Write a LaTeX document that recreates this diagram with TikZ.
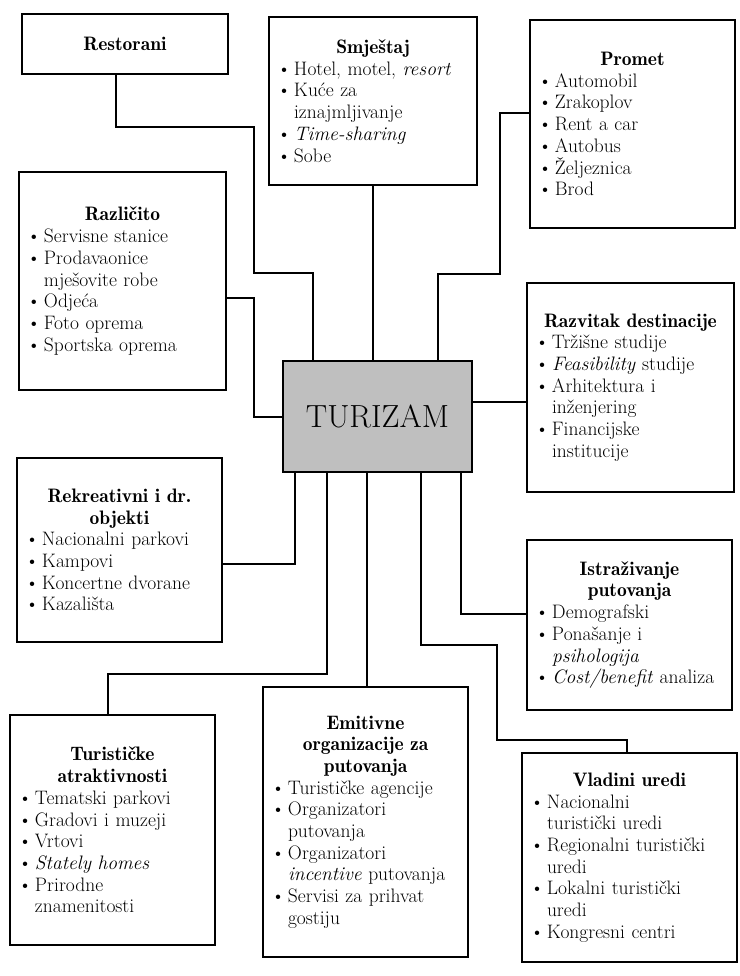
\documentclass[tikz,border=0pt]{standalone}
\usepackage{tikz}
\usetikzlibrary{calc}
\newcommand\naslov[1]{{\centering\fontseries{b}\selectfont #1\par}}
\newcommand\stavka[1]{\par\hangindent=17pt\hangafter=1\noindent\makebox[17pt][l]{\textbullet}#1\par}

\begin{document}
\begin{tikzpicture}[x=1pt,y=-1pt,
      blok/.style={draw,line width=1.5pt,inner xsep=8pt,inner ysep=3pt,align=left,
        font=\fontsize{19.5}{21.7}\selectfont},
      veza/.style={line width=1.1pt}]
      \useasboundingbox (0,0) rectangle (739,976);
      \node[blok,text width=190pt,minimum height=60pt] (rest) at (125,44)
        {\naslov{Restorani}};
      \node[blok,text width=192pt,minimum height=168pt] (smj) at (373,101)
        {\naslov{Smještaj}
        \stavka{Hotel, motel, \textit{resort}}
        \stavka{Kuće za\newline iznajmljivanje}
        \stavka{\textit{Time-sharing}}
        \stavka{Sobe}};
      \node[blok,text width=189pt,minimum height=208pt] (prom) at (632.5,124)
        {\naslov{Promet}
        \stavka{Automobil}
        \stavka{Zrakoplov}
        \stavka{Rent a car}
        \stavka{Autobus}
        \stavka{Željeznica}
        \stavka{Brod}};
      \node[blok,text width=191pt,minimum height=218pt] (razl) at (122.5,281)
        {\naslov{Različito}
        \stavka{Servisne stanice}
        \stavka{Prodavaonice\newline mješovite robe}
        \stavka{Odjeća}
        \stavka{Foto oprema}
        \stavka{Sportska oprema}};
      \node[draw,line width=1.5pt,fill=black!25,minimum width=189pt,minimum height=111pt,
        font=\fontsize{32}{36}\selectfont] (tur) at (377.5,416.5) {TURIZAM};
      \node[blok,text width=191pt,minimum height=209pt] (razv) at (630.5,387.5)
        {\naslov{Razvitak destinacije}
        \stavka{Tržišne studije}
        \stavka{\textit{Feasibility} studije}
        \stavka{Arhitektura i\newline inženjering}
        \stavka{Financijske\newline institucije}};
      \node[blok,text width=189pt,minimum height=184pt] (rekr) at (119.5,550)
        {\naslov{Rekreativni i dr.\\ objekti}
        \stavka{Nacionalni parkovi}
        \stavka{Kampovi}
        \stavka{Koncertne dvorane}
        \stavka{Kazališta}};
      \node[blok,text width=189pt,minimum height=170pt] (istr) at (629.5,625)
        {\naslov{Istraživanje\\ putovanja}
        \stavka{Demografski}
        \stavka{Ponašanje i\newline \textit{psihologija}}
        \stavka{\textit{Cost/benefit} analiza}};
      \node[blok,text width=189pt,minimum height=230pt] (atr) at (112.5,830)
        {\naslov{Turističke\\ atraktivnosti}
        \stavka{Tematski parkovi}
        \stavka{Gradovi i muzeji}
        \stavka{Vrtovi}
        \stavka{\textit{Stately homes}}
        \stavka{Prirodne\newline znamenitosti}};
      \node[blok,text width=189pt,minimum height=270pt] (emit) at (365.5,822)
        {\naslov{Emitivne\\ organizacije za\\ putovanja}
        \stavka{Turističke agencije}
        \stavka{Organizatori\newline putovanja}
        \stavka{Organizatori\newline \textit{incentive} putovanja}
        \stavka{Servisi za prihvat\newline gostiju}};
      \node[blok,text width=199pt,minimum height=209pt] (vlad) at (629.5,857.5)
        {\naslov{Vladini uredi}
        \stavka{Nacionalni\newline turistički uredi}
        \stavka{Regionalni turistički\newline uredi}
        \stavka{Lokalni turistički\newline uredi}
        \stavka{Kongresni centri}};
      \draw[veza] (rest.south -| 116,0) |- (254,127) |- (313,273) -- (tur.north -| 313,0);
      \draw[veza] (razl.east |- 0,298) -| (254,417) -- (tur.west |- 0,417);
      \draw[veza] (smj.south) -- (smj.south |- tur.north);
      \draw[veza] (prom.west |- 0,113) -| (500,274) -| (tur.north -| 438,0);
      \draw[veza] (tur.east |- 0,402) -- (razv.west |- 0,402);
      \draw[veza] (rekr.east |- 0,564) -| (tur.south -| 295,0);
      \draw[veza] (atr.north -| 108,0) |- (327,674) -- (tur.south -| 327,0);
      \draw[veza] (emit.north -| 367,0) -- (tur.south -| 367,0);
      \draw[veza] (tur.south -| 421,0) |- (497,645) |- (627,740) -- (vlad.north -| 627,0);
      \draw[veza] (tur.south -| 461,0) |- (istr.west |- 0,614);
    \end{tikzpicture}
\end{document}
